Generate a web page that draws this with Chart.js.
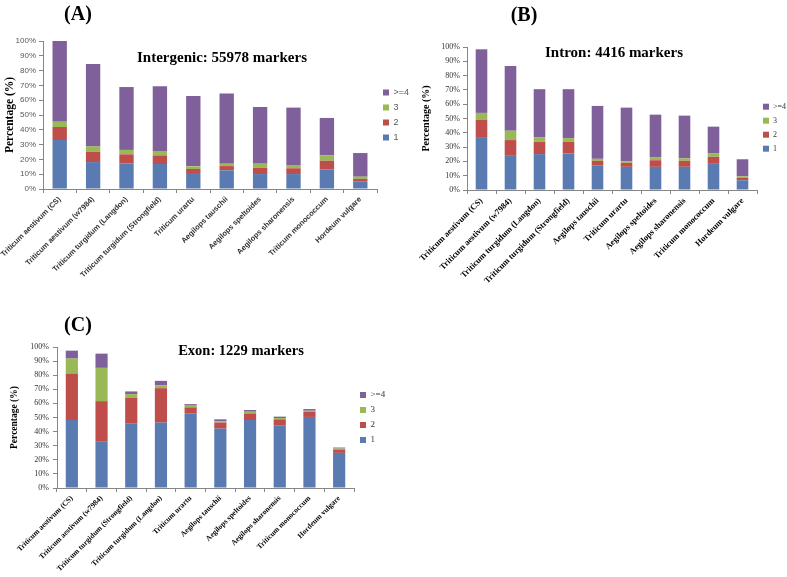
<!DOCTYPE html>
<html><head><meta charset="utf-8">
<script src="https://cdn.jsdelivr.net/npm/chart.js@4"></script>
<style>
html,body{margin:0;padding:0;background:#fff}
body{width:787px;height:577px;position:relative;overflow:hidden}
canvas{position:absolute}
.t{position:absolute;font-family:"Liberation Serif","Times New Roman",serif;font-weight:bold;color:#000;white-space:nowrap;transform:translate(-50%,-50%);line-height:1}
</style></head><body>
<canvas id="cA" width="417" height="300" style="left:0;top:0"></canvas>
<canvas id="cB" width="387" height="300" style="left:400px;top:0"></canvas>
<canvas id="cC" width="394" height="277" style="left:0;top:300px"></canvas>
<div class="t" style="left:78px;top:13px;font-size:20px">(A)</div>
<div class="t" style="left:524px;top:14px;font-size:20px">(B)</div>
<div class="t" style="left:78px;top:324px;font-size:20px">(C)</div>
<div class="t" style="left:222px;top:57px;font-size:15px">Intergenic: 55978 markers</div>
<div class="t" style="left:614px;top:52px;font-size:15px">Intron: 4416 markers</div>
<div class="t" style="left:241px;top:350px;font-size:14.5px">Exon: 1229 markers</div>
<script>
// ---- data ----
const seriesNames = ['1', '2', '3', '>=4'];
const seriesColors = ['#5A7BB1', '#BF4D4A', '#99B957', '#80609A'];
const yTickLabels = ['0%','10%','20%','30%','40%','50%','60%','70%','80%','90%','100%'];

const catsA = ['Triticum aestivum (CS)','Triticum aestivum (w7984)','Triticum turgidum (Langdon)','Triticum turgidum (Strongfield)','Triticum urartu','Aegilops tauschii','Aegilops speltoides','Aegilops sharonensis','Triticum monococcum','Hordeum vulgare'];
const intergenic1  = [33.1, 18.2, 17.3, 16.9, 10.8, 12.6, 10.1, 10.1, 13.3, 5.2];
const intergenic2  = [8.8, 7.0, 6.1, 5.8, 2.7, 2.9, 4.3, 3.9, 5.8, 1.6];
const intergenic3  = [3.6, 3.6, 3.0, 3.0, 1.8, 1.6, 2.7, 2.2, 3.6, 1.5];
const intergenic4p = [54.5, 55.7, 42.5, 43.7, 47.5, 47.5, 38.3, 38.8, 25.3, 16.0];

const catsB = ['Triticum aestivum (CS)','Triticum aestivum (w7984)','Triticum turgidum (Langdon)','Triticum turgidum (Strongfield)','Aegilops tauschii','Triticum urartu','Aegilops speltoides','Aegilops sharonensis','Triticum monococcum','Hordeum vulgare'];
const intron1  = [37.0, 23.9, 25.1, 25.5, 17.3, 16.2, 16.2, 16.2, 18.3, 6.8];
const intron2  = [12.2, 11.0, 8.6, 8.2, 3.1, 2.8, 4.6, 4.2, 4.9, 1.6];
const intron3  = [4.7, 6.6, 3.3, 2.6, 1.4, 1.1, 2.2, 1.8, 2.6, 1.2];
const intron4p = [44.5, 45.2, 33.5, 34.2, 37.0, 37.5, 29.7, 29.8, 18.5, 11.9];

const catsC = ['Triticum aestivum (CS)','Triticum aestivum (w7984)','Triticum turgidum (Strongfield)','Triticum turgidum (Langdon)','Triticum urartu','Aegilops tauschii','Aegilops speltoides','Aegilops sharonensis','Triticum monococcum','Hordeum vulgare'];
const exon1  = [48.2, 33.2, 45.9, 46.4, 52.7, 42.1, 48.2, 44.5, 50.4, 24.9];
const exon2  = [33.0, 28.4, 18.1, 24.4, 4.5, 4.3, 4.7, 4.2, 3.7, 2.4];
const exon3  = [10.6, 23.6, 2.6, 2.1, 1.2, 0.9, 1.2, 0.9, 0.7, 0.7];
const exon4p = [5.6, 10.1, 1.9, 3.1, 1.1, 1.4, 1.2, 1.0, 1.2, 0.7];

const SANS = '"Liberation Sans", Arial, sans-serif';
const SERIF = '"Liberation Serif", "Times New Roman", serif';
const AXIS = '#868686';

function makeChart(id, cats, series, o) {
  const datasets = series.map((d, i) => ({
    label: seriesNames[i], data: d, backgroundColor: seriesColors[i],
    borderWidth: 0, barPercentage: o.bar, categoryPercentage: 1
  }));
  return new Chart(document.getElementById(id), {
    type: 'bar',
    data: { labels: cats, datasets },
    options: {
      responsive: false, animation: false, devicePixelRatio: 1,
      layout: { padding: { left: o.padLeft, top: o.padTop, right: 0, bottom: 0 } },
      plugins: {
        tooltip: { enabled: false },
        legend: {
          position: 'right', fullSize: false, reverse: true, maxWidth: o.legendW,
          title: o.legendShift ? { display: true, text: ' ', padding: { top: 2, bottom: 2 }, font: { size: 12 } } : { display: false },
          labels: { boxWidth: 6, boxHeight: 6, padding: 6, color: o.legendColor,
            font: { family: o.legendFamily, size: o.legendSize } }
        }
      },
      scales: {
        x: {
          stacked: true,
          afterFit: s => { s.height = o.xHeight; s.paddingLeft = 0; s.paddingRight = 0; },
          grid: { display: true, drawOnChartArea: false, drawTicks: true, tickLength: 4, color: AXIS, offset: true },
          border: { display: true, color: AXIS, width: 1 },
          ticks: { autoSkip: false, minRotation: 45, maxRotation: 45, padding: 2,
            color: o.xColor, font: { family: o.xFamily, size: o.xSize, weight: 'bold' } }
        },
        y: {
          stacked: true, min: 0, max: 100,
          afterFit: s => { s.width = o.yWidth; },
          grid: { display: true, drawOnChartArea: false, drawTicks: true, tickLength: 4, color: AXIS },
          border: { display: true, color: AXIS, width: 1 },
          ticks: { stepSize: 10, padding: o.yPad, color: o.yColor,
            font: { family: o.yFamily, size: 8 },
            callback: (v, i) => yTickLabels[i] },
          title: { display: true, text: 'Percentage (%)', color: '#000', padding: { top: 3, bottom: 3 },
            font: { family: SERIF, size: o.titleSize, weight: 'bold' } }
        }
      }
    }
  });
}

makeChart('cA', catsA, [intergenic1, intergenic2, intergenic3, intergenic4p], {
  bar: 0.43, padLeft: 0, padTop: 41, yWidth: 43, xHeight: 111, legendW: 40,
  xFamily: SANS, xSize: 7.5, xColor: '#333', yFamily: SANS, yColor: '#595959', yPad: 3,
  legendFamily: SANS, legendColor: '#595959', legendSize: 9, titleSize: 11.5, legendShift: false
});
makeChart('cB', catsB, [intron1, intron2, intron3, intron4p], {
  bar: 0.40, padLeft: 17, padTop: 47, yWidth: 50, xHeight: 110, legendW: 30,
  xFamily: SERIF, xSize: 8.5, xColor: '#000', yFamily: SERIF, yColor: '#333', yPad: 3,
  legendFamily: SERIF, legendColor: '#333', legendSize: 8, titleSize: 10, legendShift: true
});
makeChart('cC', catsC, [exon1, exon2, exon3, exon4p], {
  bar: 0.41, padLeft: 6, padTop: 47, yWidth: 51, xHeight: 89, legendW: 40,
  xFamily: SERIF, xSize: 7.5, xColor: '#000', yFamily: SERIF, yColor: '#333', yPad: 4,
  legendFamily: SERIF, legendColor: '#333', legendSize: 9, titleSize: 9.5, legendShift: false
});
</script>
</body></html>
